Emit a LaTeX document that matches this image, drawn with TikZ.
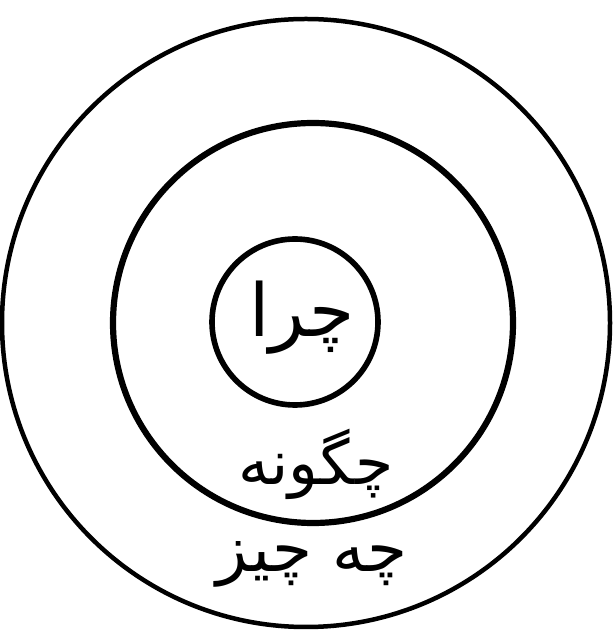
\documentclass[tikz,border=0pt]{standalone}
\usepackage{fontspec}
\newfontfamily\arabicfont[Script=Arabic]{DejaVu Sans}
\TeXXeTstate=1
\usetikzlibrary{positioning}

\begin{document}
\begin{tikzpicture}[
  ring/.style = {
    draw, circle, line width=#1
  },
  label/.style = {
    font=\arabicfont\fontsize{#1}{#1}\selectfont,
    inner sep=0pt
  }
]

\useasboundingbox (0,0) rectangle (15.325,15.85);

\node[ring=3.2pt, minimum size=15.2cm] (what) at (7.65,7.775) {};
\node[ring=4.4pt, minimum size=10.0cm] (how) at (7.825,7.775) {};
\node[ring=4.0pt, minimum size=4.15cm] (why) at (7.375,7.8) {};

\node[label=52] (whytext) at (7.55,7.9) {\beginR چرا\endR};
\node[label=44] (howtext) at (7.9,4.25) {\beginR چگونه\endR};
\node[label=46] (whattext) at (7.8,1.75) {\beginR چه چیز\endR};

\end{tikzpicture}
\end{document}
